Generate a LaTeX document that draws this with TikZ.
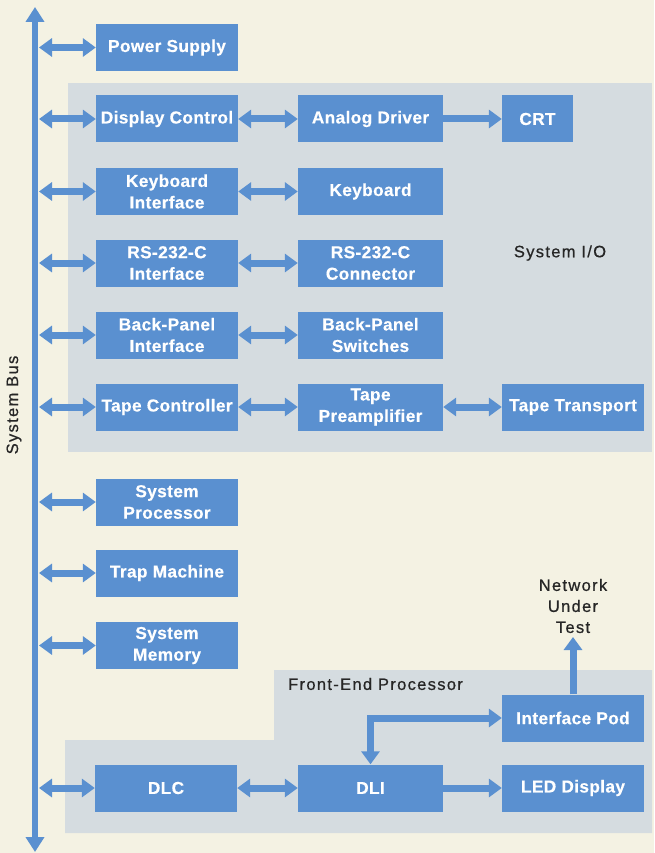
\documentclass[tikz,border=0pt]{standalone}
\usepackage{fontspec}
\setmainfont{Liberation Sans}
\newfontfamily\bxfont[LetterSpace=2,FakeBold=0.4]{Liberation Sans}
\newfontfamily\lbfont[LetterSpace=8,FakeBold=0.7]{Liberation Sans}
\usetikzlibrary{arrows.meta}
\definecolor{bgcream}{HTML}{F4F2E3}
\definecolor{regiongray}{HTML}{D5DCE0}
\definecolor{boxblue}{HTML}{5A90D0}
\definecolor{labeldark}{HTML}{262626}
\tikzset{
  blk/.style={fill=boxblue, text=white, inner sep=0pt, align=center,
    font=\bxfont\bfseries\fontsize{17.3}{21.5}\selectfont},
  wA/.style={blk, minimum width=142pt, minimum height=47pt},
  wB/.style={blk, minimum width=145pt, minimum height=47pt},
  lbl/.style={text=labeldark, align=center, inner sep=0pt,
    font=\lbfont\fontsize{16.5}{21}\selectfont},
  tipA/.tip={Triangle[width=18pt,length=13pt]},
  dbl/.style={draw=boxblue, line width=7pt, tipA-tipA},
  sgl/.style={draw=boxblue, line width=7pt, -tipA},
  region/.style={fill=regiongray, draw=none}
}
\begin{document}
\begin{tikzpicture}[x=1pt,y=-1pt]
\fill[bgcream] (0,0) rectangle (654,853);
\useasboundingbox (0,0) rectangle (654,853);
% regions
\fill[region] (68,83) rectangle (652,452);
\fill[region] (274,670) -- (652,670) -- (652,833) -- (65,833) -- (65,740) -- (274,740) -- cycle;
\node[lbl, anchor=center] (sysio) at (560,253) {System I/O};
\node[lbl, anchor=west] (fep) at (288,684) {Front-End Processor};
% system bus
\coordinate (bustop) at (35,7);
\coordinate (busbot) at (35,852);
\draw[draw=boxblue, line width=6pt, {Triangle[width=18pt,length=15pt]}-{Triangle[width=18pt,length=15pt]}] (busbot) -- (bustop);
\node[lbl, rotate=90] (buslbl) at (14,405) {System Bus};
% boxes column 1
\node[wA] (ps)   at (167,47.5) {Power Supply};
\node[wA] (dc)   at (167,119) {Display Control};
\node[wA] (kbi)  at (167,191.5) {Keyboard\\Interface};
\node[wA] (rsi)  at (167,263) {RS-232-C\\Interface};
\node[wA] (bpi)  at (167,335) {Back-Panel\\Interface};
\node[wA] (tc)   at (167,407) {Tape Controller};
\node[wA] (sp)   at (167,502) {System\\Processor};
\node[wA] (tm)   at (167,573) {Trap Machine};
\node[wA] (sm)   at (167,645.5) {System\\Memory};
\node[wA] (dlc)  at (166,788) {DLC};
% column 2
\node[wB] (ad)   at (370.5,119) {Analog Driver};
\node[wB] (kb)   at (370.5,191.5) {Keyboard};
\node[wB] (rsc)  at (370.5,263) {RS-232-C\\Connector};
\node[wB] (bps)  at (370.5,335) {Back-Panel\\Switches};
\node[wB] (tp)   at (370.5,407) {Tape\\Preamplifier};
\node[wB] (dli)  at (370.5,788) {DLI};
% column 3
\node[blk, minimum width=71pt, minimum height=47pt] (crt) at (537.5,119) {CRT};
\node[wA] (tt)   at (573,407) {Tape Transport};
\node[wA] (ip)   at (573,718) {Interface Pod};
\node[wA] (led)  at (573,788) {LED Display};
% network label
\node[lbl] (nut) at (573,606) {Network\\Under\\Test};
\coordinate (nutin) at (573,637);
% bus taps
\foreach \n in {ps,dc,kbi,rsi,bpi,tc,sp,tm,sm,dlc}{
  \coordinate (b-\n) at (bustop |- \n.west);
  \draw[dbl] ([xshift=4pt]b-\n) -- (\n.west);
}
% horizontal connections
\draw[dbl] (dc.east) -- (ad.west);
\draw[sgl] (ad.east) -- (crt.west);
\draw[dbl] (kbi.east) -- (kb.west);
\draw[dbl] (rsi.east) -- (rsc.west);
\draw[dbl] (bpi.east) -- (bps.west);
\draw[dbl] (tc.east) -- (tp.west);
\draw[dbl] (tp.east) -- (tt.west);
\draw[dbl] (dlc.east) -- (dli.west);
\draw[sgl] (dli.east) -- (led.west);
\draw[dbl] (dli.north) |- (ip.west);
\draw[sgl] (ip.north) -- (nutin);
\end{tikzpicture}
\end{document}
